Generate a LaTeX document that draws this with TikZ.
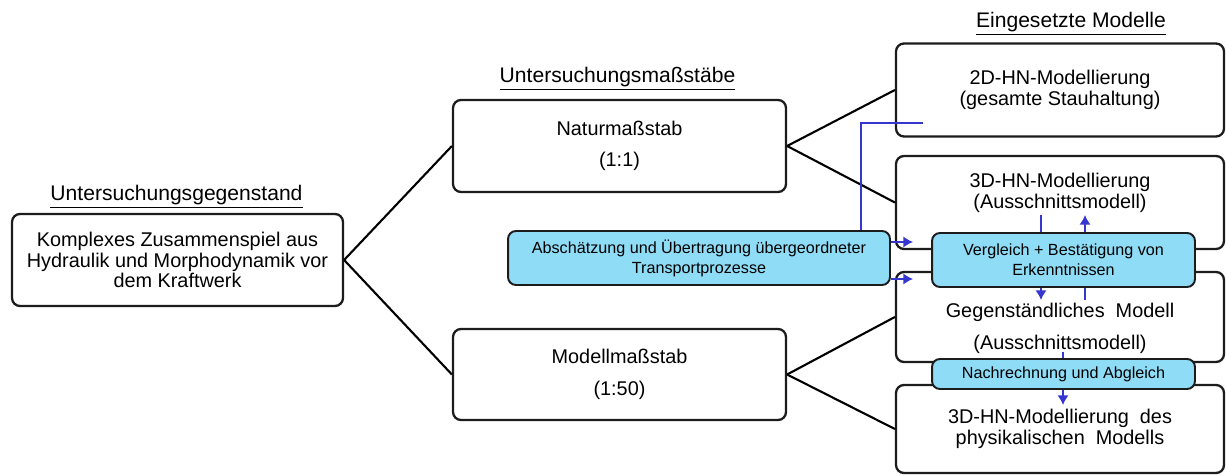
\documentclass[tikz,border=0pt]{standalone}
\usepackage{fontspec}
\setmainfont{Liberation Sans}
\usepackage{tikz}
\usetikzlibrary{arrows.meta, positioning, calc}
\definecolor{hydroblue}{HTML}{8FDCF6}
\definecolor{hydroarrow}{HTML}{3535D0}
\definecolor{hydrodark}{HTML}{1C1C1C}
\tikzset{
  modelbox/.style={draw=hydrodark, line width=1.3pt, rounded corners=4.5pt, fill=white,
    align=center, font=\fontsize{11.3}{11.6}\selectfont, inner sep=0pt},
  notebox/.style={draw=hydrodark, line width=1.1pt, rounded corners=4.5pt, fill=hydroblue,
    align=center, font=\fontsize{9.2}{11.4}\selectfont, inner sep=0pt},
  boxtext/.style={align=center, font=\fontsize{11.3}{11.8}\selectfont, inner sep=0pt},
  headline/.style={font=\fontsize{12}{14}\selectfont, inner sep=0pt},
  link/.style={draw=black, line width=1.2pt},
  flow/.style={draw=hydroarrow, line width=1.6pt},
  flowto/.style={flow, -{Latex[length=5.5pt,width=6.5pt]}},
}

\begin{document}
\begin{tikzpicture}[x=0.02cm, y=-0.02cm]
  \useasboundingbox (0,0) rectangle (1226,475);
  % headings
  \node[headline] (hsubj) at (176.5,197) {\underline{Untersuchungsgegenstand}};
  \node[headline] (hscale) at (617.5,79) {\underline{Untersuchungsmaßstäbe}};
  \node[headline] (hmodel) at (1071,24) {\underline{Eingesetzte Modelle}};
  % white boxes
  \node[modelbox, minimum width=6.62cm, minimum height=1.84cm] (subj) at (177.5,260)
    {Komplexes Zusammenspiel aus\\Hydraulik und Morphodynamik vor\\dem Kraftwerk};
  \node[modelbox, minimum width=6.66cm, minimum height=1.84cm] (natur) at (619.5,146)
    {Naturmaßstab\\[6.3pt](1:1)};
  \node[modelbox, minimum width=6.66cm, minimum height=1.82cm] (modell) at (619.5,374.5)
    {Modellmaßstab\\[6.3pt](1:50)};
  \node[modelbox, minimum width=6.56cm, minimum height=1.86cm] (m2d) at (1060,90)
    {2D-HN-Modellierung\\(gesamte Stauhaltung)};
  \node[modelbox, minimum width=6.56cm, minimum height=1.86cm] (m3d) at (1060,202.5) {};
  \node[boxtext] (m3dtext) at (1060,193) {3D-HN-Modellierung\\(Ausschnittsmodell)};
  \node[modelbox, minimum width=6.56cm, minimum height=1.80cm] (mgeg) at (1060,317) {};
  \node[boxtext] (mgegtext) at (1060,328) {Gegenständliches\ \ Modell\\[6.3pt](Ausschnittsmodell)};
  \node[modelbox, minimum width=6.56cm, minimum height=1.76cm] (mphys) at (1060,429)
    {3D-HN-Modellierung\ \ des\\physikalischen\ \ Modells};
  % tree lines
  \draw[link] (subj.east) -- (natur.west);
  \draw[link] (subj.east) -- (modell.west);
  \draw[link] (natur.east) -- (m2d.west);
  \draw[link] (natur.east) -- (m3d.west);
  \draw[link] (modell.east) -- (mgeg.west);
  \draw[link] (modell.east) -- (mphys.west);
  % blue arrows behind the notes
  \coordinate (vin) at (1041,215);
  \coordinate (vout) at (1041,300);
  \coordinate (uin) at (1085,300);
  \coordinate (uout) at (1085,215);
  \coordinate (nin) at (1063,352);
  \coordinate (nout) at (1063,405);
  \draw[flowto] (vin) -- (vout);
  \draw[flowto] (uin) -- (uout);
  \draw[flowto] (nin) -- (nout);
  % blue notes
  \node[notebox, minimum width=7.64cm, minimum height=1.08cm] (abs) at (699,258)
    {Abschätzung und Übertragung übergeordneter\\Transportprozesse};
  \node[notebox, minimum width=5.26cm, minimum height=1.08cm] (vgl) at (1063.5,260)
    {Vergleich + Bestätigung von\\Erkenntnissen};
  \node[notebox, minimum width=5.26cm, minimum height=0.60cm] (nach) at (1063.5,374)
    {Nachrechnung und Abgleich};
  % arrows out of the estimate
  \coordinate (kink) at (861,123);
  \coordinate (end2d) at (923,123);
  \coordinate (t3d) at (913,242);
  \coordinate (tgeg) at (913,279);
  \draw[flow] (abs.north -| kink) -- (kink) -- (end2d);
  \draw[flowto] (abs.east |- t3d) -- (t3d);
  \draw[flowto] (abs.east |- tgeg) -- (tgeg);
\end{tikzpicture}
\end{document}
